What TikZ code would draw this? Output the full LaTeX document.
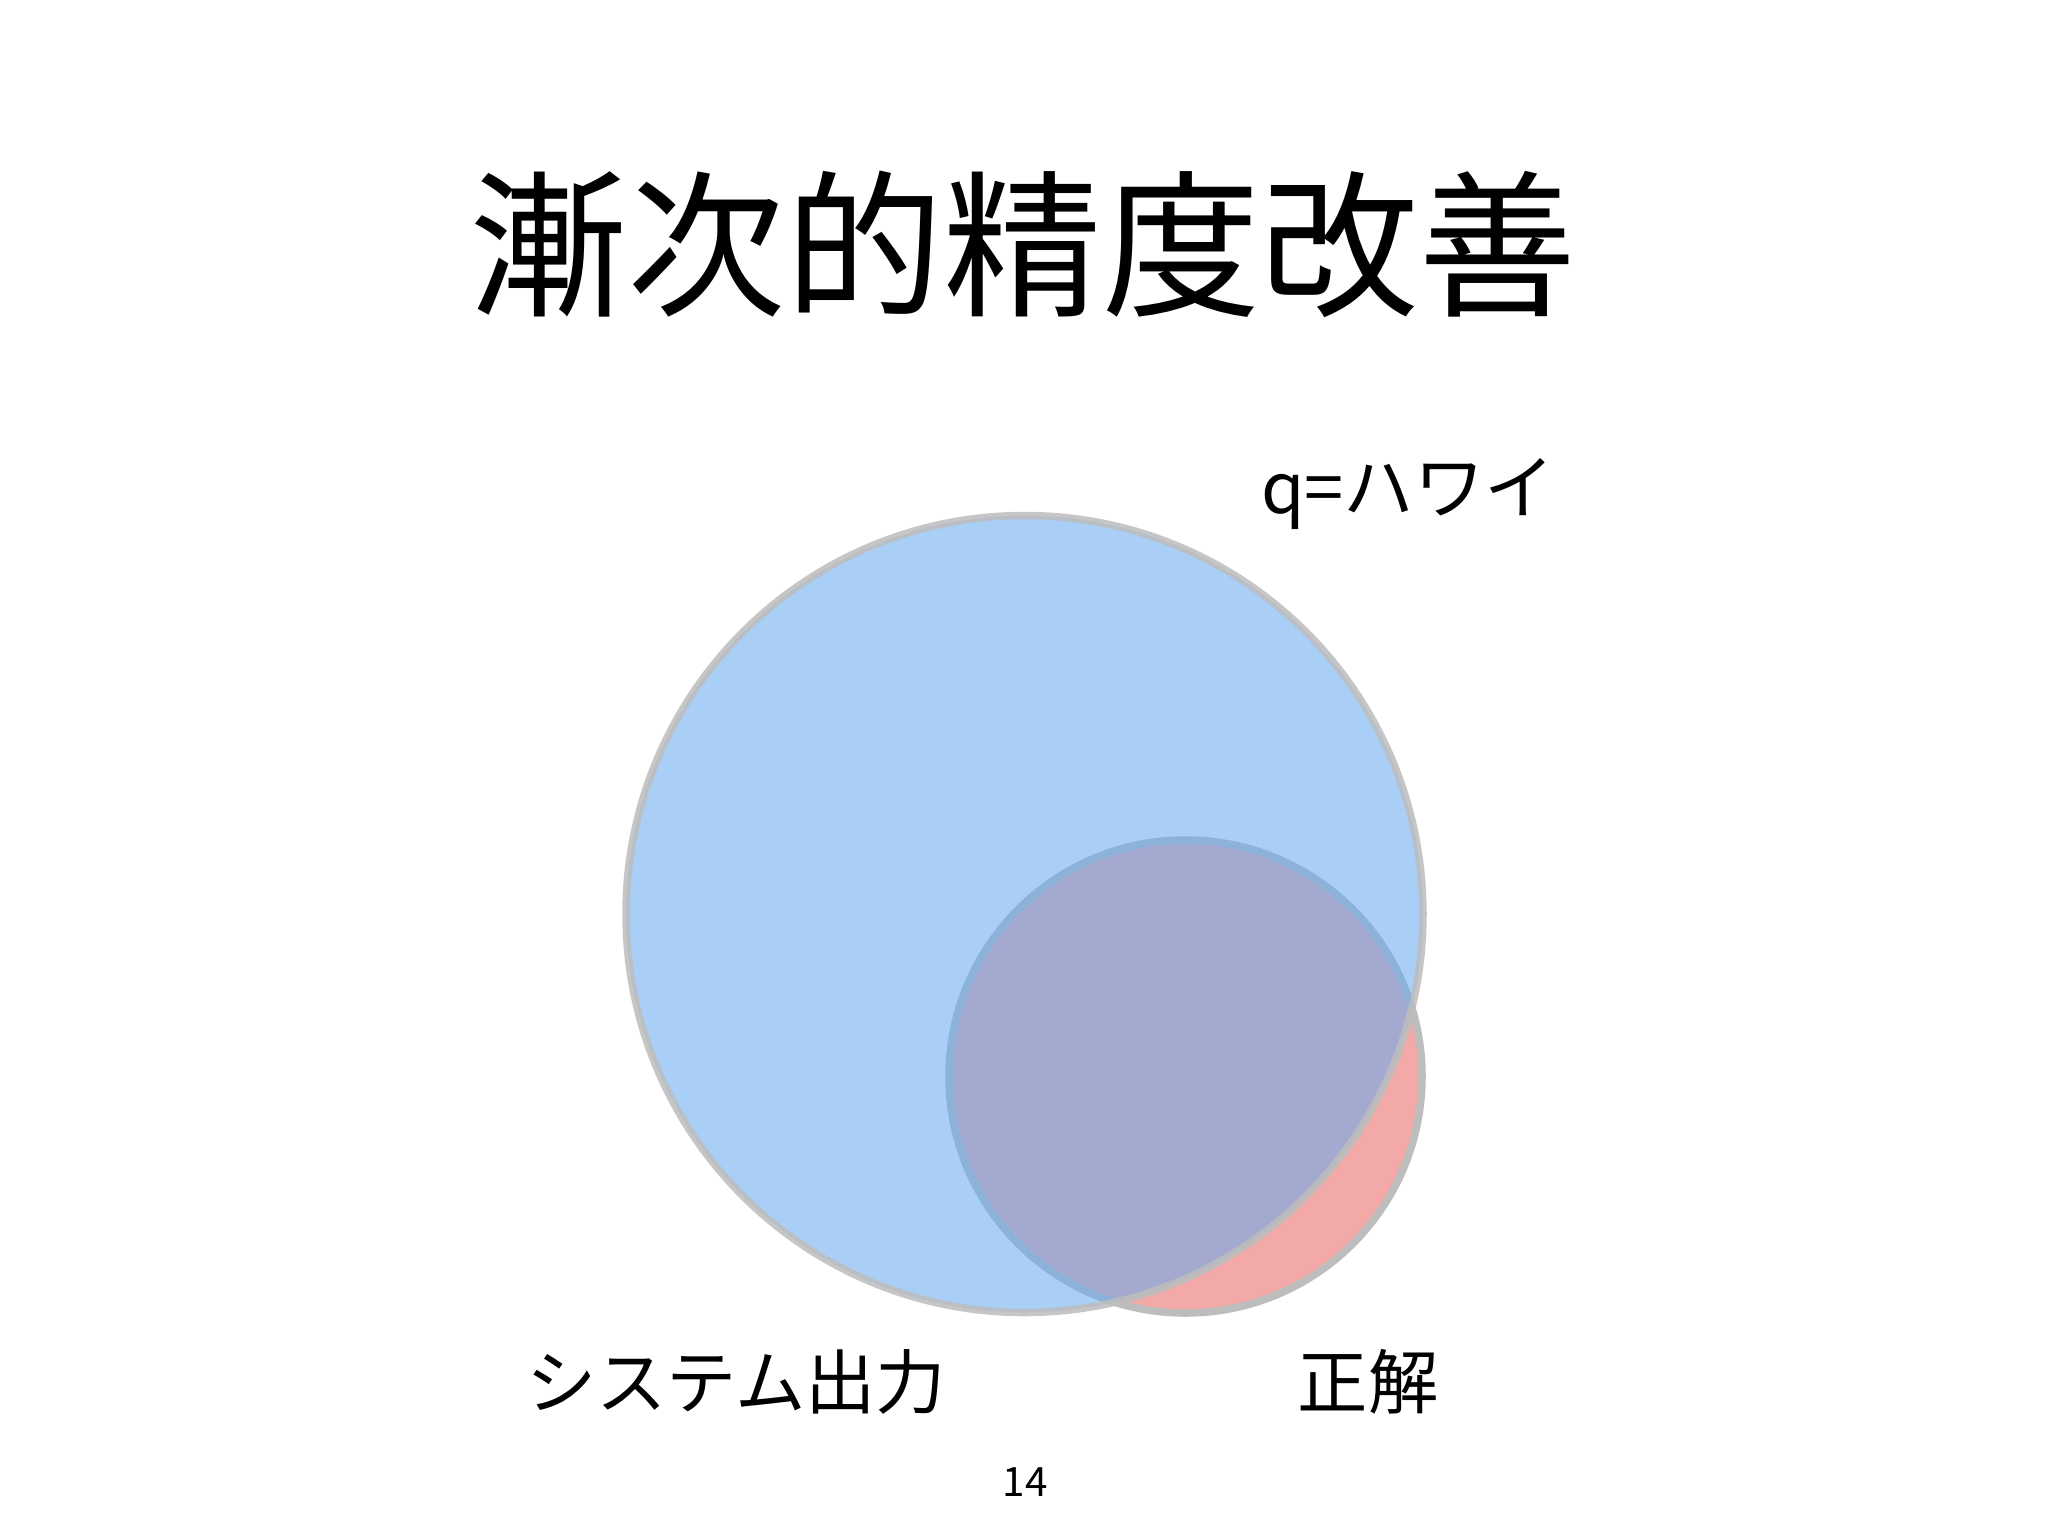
\documentclass[tikz,border=0pt]{standalone}
\usepackage{fontspec}
\setmainfont{Noto Sans CJK JP}
\begin{document}
\begin{tikzpicture}[x=0.01cm,y=-0.01cm,
  lbl/.style={inner sep=0pt, font=\fontsize{20pt}{24pt}\selectfont},
  rim/.style={draw=rimgray, line width=0.075cm}]
\definecolor{rimgray}{HTML}{BDBDBD}
\definecolor{vennblue}{HTML}{64A9F2}
\definecolor{vennred}{HTML}{F2A9A7}
\useasboundingbox[fill=white] (0,0) rectangle (2048,1536);
% title
\node[inner sep=0pt, font=\fontsize{45pt}{54pt}\selectfont] (title) at (1023,244) {漸次的精度改善};
% circles
\path[fill=vennred, rim] (1185.5,1076.5) circle[radius=236.5];
\node[circle, minimum size=4.73cm] (answer) at (1185.5,1076.5) {};
\path[fill=vennblue, fill opacity=0.55, draw=rimgray, draw opacity=0.85, line width=0.075cm] (1024.5,914) circle[radius=398.5];
\node[circle, minimum size=7.97cm] (system) at (1024.5,914) {};
% labels
\node[lbl] (query) at (1408,494) {q=ハワイ};
\node[lbl] (syslbl) at (736,1382) {システム出力};
\node[lbl] (anslbl) at (1368,1382) {正解};
\node[inner sep=0pt, font=\fontsize{11.5pt}{14pt}\selectfont] (page) at (1025,1482) {14};
\end{tikzpicture}
\end{document}
